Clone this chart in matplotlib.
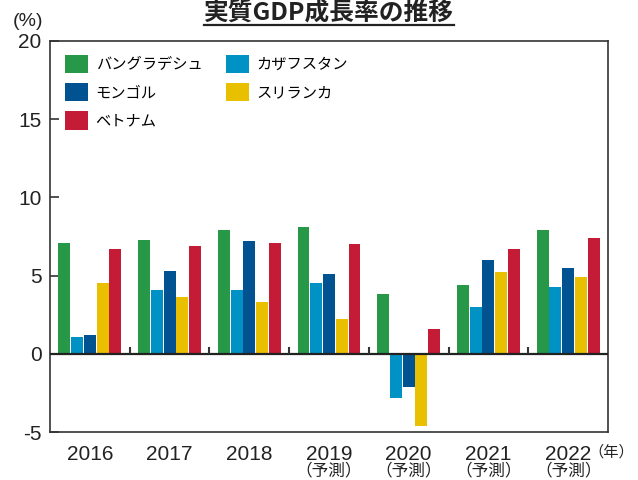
import matplotlib
matplotlib.use("Agg")
import matplotlib.pyplot as plt
import numpy as np
from matplotlib.patches import Patch
from matplotlib.lines import Line2D
import matplotlib.transforms as mtransforms

plt.rcParams['font.family'] = ['Liberation Sans', 'Noto Sans CJK JP', 'DejaVu Sans']

years = ["2016", "2017", "2018", "2019", "2020", "2021", "2022"]
forecast = ["", "", "", "（予測）", "（予測）", "（予測）", "（予測）"]
countries = ["バングラデシュ", "カザフスタン", "モンゴル", "スリランカ", "ベトナム"]
bangladesh = [7.1, 7.3, 7.9, 8.1, 3.8, 4.4, 7.9]
kazakhstan = [1.1, 4.1, 4.1, 4.5, -2.8, 3.0, 4.3]
mongolia = [1.2, 5.3, 7.2, 5.1, -2.1, 6.0, 5.5]
srilanka = [4.5, 3.6, 3.3, 2.2, -4.6, 5.2, 4.9]
vietnam = [6.7, 6.9, 7.1, 7.0, 1.6, 6.7, 7.4]
colors = ["#269848", "#0092C4", "#005291", "#E8C000", "#C41C36"]

series = [bangladesh, kazakhstan, mongolia, srilanka, vietnam]

fig = plt.figure(figsize=(6.38, 4.8), dpi=100)
ax = fig.add_axes([50/638, 48/480, 558/638, 391/480])

x = np.arange(len(years))
step = 0.16
width = 0.15
for j, (vals, c) in enumerate(zip(series, colors)):
    ax.bar(x + (j - 2) * step, vals, width=width, color=c, linewidth=0, zorder=2)

ax.set_xlim(-0.5, len(years) - 0.5)
ax.set_ylim(-5, 20)
ax.set_yticks([-5, 0, 5, 10, 15, 20])
ax.set_yticklabels(["-5", "0", "5", "10", "15", "20"])
ax.tick_params(axis='y', direction='in', length=6.5, width=1.2, pad=6,
               labelsize=15, color='#333333', labelcolor='#222222')
ax.set_xticks(x)
ax.set_xticklabels(years)
ax.tick_params(axis='x', length=0, pad=9, labelsize=15, labelcolor='#222222')

for s in ax.spines.values():
    s.set_color('#333333')
    s.set_linewidth(1.2)

ax.axhline(0, color='#222222', lw=1.6, zorder=3)
ax.vlines(np.arange(0.5, len(years) - 0.5), 0, 0.45, color='#333333', lw=1.5, zorder=3)

trans = mtransforms.blended_transform_factory(ax.transData, ax.transAxes)
for xi, f in zip(x, forecast):
    if f:
        ax.text(xi, -0.1, f, transform=trans, ha='center', va='center',
                fontsize=12, color='#222222', family=['Noto Sans CJK JP'])

fig.text(611/638, 1 - 452/480, "（年）", ha='center', va='center', fontsize=11,
         color='#222222', family=['Noto Sans CJK JP'])
fig.text(28/638, 1 - 21/480, "(%)", ha='center', va='center', fontsize=14,
         color='#222222')

t = fig.text(328.5/638, 1 - 13/480, "実質GDP成長率の推移", ha='center', va='center',
             fontsize=17.8, fontweight='bold', color='#222222',
             family=['Noto Sans CJK JP'])
fig.canvas.draw()
bb = t.get_window_extent(fig.canvas.get_renderer())
W, H = fig.bbox.width, fig.bbox.height
fig.add_artist(Line2D([bb.x0 / W, bb.x1 / W], [1 - 25/480, 1 - 25/480],
                      transform=fig.transFigure, color='#222222', lw=1.6))

order = [0, 2, 4, 1, 3]
handles = [Patch(facecolor=colors[i], edgecolor='none') for i in order]
labels = [countries[i] for i in order]
ax.legend(handles, labels, ncol=2, loc='upper left', bbox_to_anchor=(0.027, 0.965),
          frameon=False, borderpad=0, borderaxespad=0,
          handlelength=1.5, handleheight=1.5, handletextpad=0.5,
          labelspacing=0.62, columnspacing=1.55,
          prop={'family': ['Noto Sans CJK JP'], 'size': 11})

fig.savefig("out.png", dpi=100)
